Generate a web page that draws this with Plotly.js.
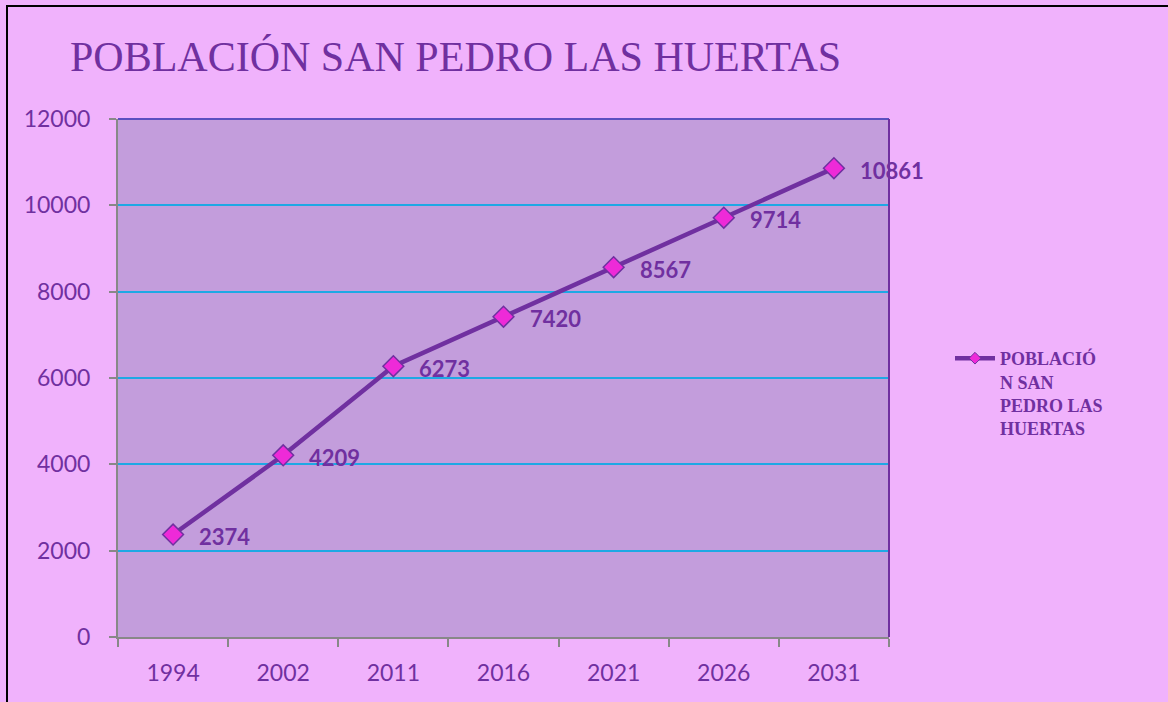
<!DOCTYPE html>
<html><head><meta charset="utf-8">
<script src="https://cdn.plot.ly/plotly-3.0.1.min.js"></script>
<style>html,body{margin:0;padding:0;background:#F0B2FC;}#c{width:1168px;height:702px;}</style>
</head><body><div id="c"></div>
<script>
const years = ['1994','2002','2011','2016','2021','2026','2031'];
const population = [2374, 4209, 6273, 7420, 8567, 9714, 10861];
const seriesName = 'POBLACIÓ<br>N SAN<br>PEDRO LAS<br>HUERTAS';
const chartTitle = 'POBLACIÓN SAN PEDRO LAS HUERTAS';

const purple = '#7030A0';
const trace = {
  x: years, y: population, type: 'scatter', mode: 'lines+markers',
  name: seriesName, showlegend: false,
  line: {color: purple, width: 4.5},
  marker: {symbol: 'diamond', size: 16, color: '#EE2AD8', line: {color: purple, width: 1.5}}
};
const legendTrace = {
  x: [null], y: [null], type: 'scatter', mode: 'lines+markers', name: seriesName,
  line: {color: purple, width: 4.5},
  marker: {symbol: 'diamond', size: 9, color: '#EE2AD8', line: {color: purple, width: 1}}
};
const annotations = years.map((yr, i) => ({
  x: i, y: population[i], xref: 'x', yref: 'y', text: String(population[i]),
  showarrow: false, xanchor: 'left', yanchor: 'middle', xshift: 24, yshift: -2,
  font: {family: 'Lato, sans-serif', size: 22, color: purple, weight: 'bold'}
}));
const layout = {
  width: 1168, height: 702,
  paper_bgcolor: '#F0B2FC', plot_bgcolor: '#C39DDC',
  margin: {l: 118, r: 279, t: 119, b: 65},
  title: {text: chartTitle, x: 70/1168, xanchor: 'left', y: 1 - 56/702, yanchor: 'middle',
    font: {family: '"Liberation Serif", serif', size: 42, color: purple}},
  xaxis: {type: 'category', range: [-0.5, years.length - 0.5], tickson: 'boundaries', ticks: 'outside', ticklen: 8, tickcolor: '#888',
    tickwidth: 2, showline: true, linecolor: '#888', linewidth: 2, showgrid: false, tickangle: 0,
    tickfont: {family: 'Lato, sans-serif', size: 23, color: purple}, ticklabelstandoff: 14, fixedrange: true},
  yaxis: {range: [0, 12000], dtick: 2000, tickformat: 'd', ticks: 'outside', ticklen: 7, tickcolor: '#888', tickwidth: 2,
    showline: true, linecolor: '#888', linewidth: 2, gridcolor: '#1EA8E4', gridwidth: 2, zeroline: false,
    tickfont: {family: 'Lato, sans-serif', size: 23, color: purple}, ticklabelstandoff: 14, fixedrange: true},
  showlegend: true,
  legend: {x: 1 + (950-889)/771, xanchor: 'left', y: 1 - (340-119)/518, yanchor: 'top', valign: 'top',
    bgcolor: 'rgba(0,0,0,0)', font: {family: '"Liberation Serif", serif', size: 18, color: purple, weight: 'bold'},
    itemwidth: 40, tracegroupgap: 0},
  annotations: annotations,
  shapes: [
    {type: 'line', xref: 'paper', yref: 'paper', x0: 0, x1: 1, y0: 1, y1: 1, line: {color: '#5B4FC0', width: 2}},
    {type: 'line', xref: 'paper', yref: 'paper', x0: 1, x1: 1, y0: 0, y1: 1, line: {color: purple, width: 2}},
    {type: 'rect', xref: 'paper', yref: 'paper', x0: (7-118)/771, x1: 1.5, y0: -0.5, y1: 1 + (119-6)/518,
      line: {color: '#000', width: 2}, layer: 'below'}
  ]
};
Plotly.newPlot('c', [trace, legendTrace], layout, {displayModeBar: false, staticPlot: true});
</script></body></html>
